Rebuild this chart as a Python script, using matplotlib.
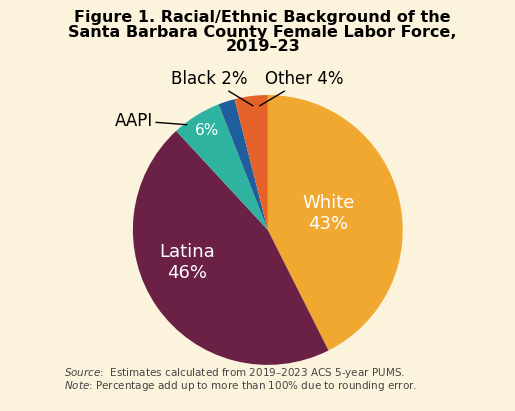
import matplotlib.pyplot as plt
import numpy as np

labels = ['White', 'Latina', 'AAPI', 'Black', 'Other']
shares = [43, 46, 6, 2, 4]
colors = ['#F0A830', '#6B2145', '#2DB3A0', '#1F5E9C', '#E5622B']
bg = '#FBF3DC'

fig = plt.figure(figsize=(5.15, 4.11), dpi=100, facecolor=bg)
fig.text(0.51, 0.975, 'Figure 1. Racial/Ethnic Background of the\nSanta Barbara County Female Labor Force,\n2019\u201323',
         ha='center', va='top', fontsize=11.5, fontweight='bold', linespacing=0.95)

ax = fig.add_axes([0.258, 0.112, 0.524, 0.657])
ax.set_facecolor(bg)
wedges, _ = ax.pie(shares, colors=colors, startangle=90, counterclock=False,
                   wedgeprops=dict(linewidth=0))
ax.set_aspect('equal')
ax.set_xlim(-1, 1)
ax.set_ylim(-1, 1)

# inside labels
ax.text(0.45, 0.12, f'{labels[0]}\n{shares[0]}%', color='white', ha='center', va='center', fontsize=13)
ax.text(-0.6, -0.24, f'{labels[1]}\n{shares[1]}%', color='white', ha='center', va='center', fontsize=13)
ax.text(-0.45, 0.74, f'{shares[2]}%', color='white', ha='center', va='center', fontsize=11)

# outside labels
line = dict(arrowstyle='-', lw=1, color='black', shrinkA=0, shrinkB=0)
ax.annotate(labels[2], xy=(-0.6, 0.78), xytext=(-0.85, 0.81), ha='right', va='center', fontsize=12,
            arrowprops=line)
ax.annotate(f'{labels[3]} {shares[3]}%', xy=(-0.11, 0.92), xytext=(-0.15, 1.05), ha='right', va='bottom',
            fontsize=12, arrowprops=line)
ax.annotate(f'{labels[4]} {shares[4]}%', xy=(-0.06, 0.92), xytext=(-0.02, 1.05), ha='left', va='bottom',
            fontsize=12, arrowprops=line)

fig.text(0.125, 0.11, r'$\it{Source}$:  Estimates calculated from 2019' + '\u2013' + '2023 ACS 5-year PUMS.',
         fontsize=7.5, color='#444444', va='top')
fig.text(0.125, 0.078, r'$\it{Note}$: Percentage add up to more than 100% due to rounding error.',
         fontsize=7.5, color='#444444', va='top')

fig.savefig('out.png', dpi=100, facecolor=bg)
